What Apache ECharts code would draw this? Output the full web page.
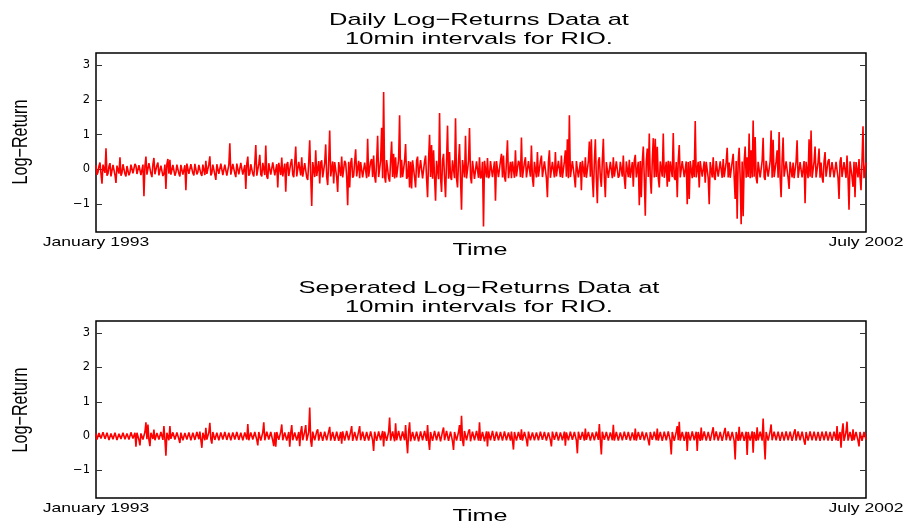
<!DOCTYPE html>
<html>
<head>
<meta charset="utf-8">
<script src="https://cdn.jsdelivr.net/npm/echarts@6/dist/echarts.min.js"></script>
<style>html,body{margin:0;padding:0;background:#fff;}#chart{width:903px;height:524px;}</style>
</head>
<body>
<div id="chart"></div>
<script>
// Daily log-returns (top panel), one value per ~1px
const dailyReturns = [
0.12,-0.15,-0.08,0.1,0.2,-0.12,-0.41,0.14,0.15,-0.1,0.61,-0.18,-0.12,0.09,0.18,-0.2,-0.15,0.13,0.1,-0.16,-0.39,0.11,0.14,-0.12,0.35,-0.18,-0.1,0.15,0.16,-0.13,-0.2,0.1,0.12,-0.17,-0.09,0.14,0.19,-0.11,-0.14,0.16,
0.1,-0.13,-0.18,0.12,0.15,-0.16,-0.11,0.14,-0.77,0.1,0.37,-0.15,-0.13,0.18,0.17,-0.12,-0.22,0.15,0.33,-0.14,-0.1,0.12,0.2,-0.17,-0.16,0.11,0.13,-0.19,-0.12,0.14,-0.56,0.16,0.3,-0.12,0.28,-0.15,-0.15,0.13,0.12,-0.18,
-0.09,0.14,0.16,-0.12,-0.2,0.13,0.11,-0.15,-0.14,0.12,-0.6,0.17,0.18,-0.13,-0.1,0.15,0.14,-0.11,-0.17,0.16,0.12,-0.14,-0.08,0.13,0.15,-0.12,-0.19,0.14,0.1,-0.16,0.25,-0.13,-0.13,0.15,0.38,-0.17,-0.11,0.14,0.17,-0.15,
-0.3,0.15,0.14,-0.13,-0.12,0.17,0.2,-0.16,-0.15,0.14,0.11,-0.18,-0.2,0.13,0.75,-0.15,-0.14,0.16,0.18,-0.12,-0.22,0.17,0.16,-0.14,-0.1,0.19,0.22,-0.15,-0.17,0.13,-0.56,0.16,0.37,-0.18,-0.12,0.15,0.19,-0.13,-0.2,0.17,
0.7,-0.18,-0.15,0.16,0.42,-0.14,-0.2,0.19,0.17,-0.16,0.69,-0.2,-0.27,0.18,0.2,-0.15,-0.14,0.2,0.24,-0.17,-0.18,0.15,-0.52,0.19,0.15,-0.16,0.34,-0.2,-0.2,0.17,-0.64,0.14,0.21,-0.19,-0.16,0.18,0.3,-0.15,-0.22,0.2,
0.66,-0.2,-0.18,0.22,0.2,-0.17,0.35,-0.21,-0.25,0.18,0.22,-0.23,-0.3,0.2,0.84,-0.18,-1.05,0.21,0.25,-0.22,0.55,-0.19,-0.22,0.24,-0.4,0.2,0.26,-0.23,-0.2,0.19,0.72,-0.21,-0.45,0.22,1.12,-0.2,-0.25,0.23,-0.4,0.21,
0.2,-0.22,-0.65,0.21,0.24,-0.19,0.37,-0.23,-0.2,0.25,0.18,-0.2,-1.03,0.22,-0.52,0.19,0.33,-0.24,-0.18,0.22,0.58,-0.2,-0.22,0.25,-0.25,0.21,0.26,-0.23,-0.2,0.2,0.22,-0.25,0.88,-0.21,-0.24,0.23,0.3,-0.22,0.4,-0.2,
-0.38,0.24,0.97,-0.22,-0.2,0.26,1.2,-0.25,2.23,-0.21,-0.38,0.27,0.22,-0.24,-0.35,0.25,0.8,-0.22,0.45,-0.26,0.35,-0.23,-0.25,0.28,1.56,-0.24,0.28,-0.22,-0.22,0.25,0.73,-0.27,-0.2,0.24,-0.52,0.22,-0.55,0.26,0.25,-0.23,
-0.52,0.25,0.37,-0.24,-0.2,0.27,0.25,-0.26,-0.28,0.23,0.4,-0.25,-0.8,0.26,1.0,-0.22,0.7,-0.27,0.55,-0.24,-0.9,0.25,0.3,-0.28,1.62,-0.23,-0.65,0.26,0.45,-0.25,-0.8,0.24,1.26,-0.27,0.5,-0.22,-0.3,0.26,0.28,-0.25,
1.47,-0.26,-0.52,0.24,0.73,-0.25,-1.16,0.27,0.25,-0.23,0.97,-0.26,-0.3,0.24,1.19,-0.22,-0.4,0.25,0.2,-0.27,-0.25,0.23,0.18,-0.24,0.35,-0.26,-0.2,0.22,-1.64,0.25,0.22,-0.23,0.33,-0.25,-0.18,0.24,0.2,-0.22,-0.24,0.23,
-0.9,0.24,0.2,-0.22,-0.18,0.25,0.45,-0.23,0.4,-0.21,-0.35,0.24,0.84,-0.25,-0.2,0.22,-0.25,0.23,0.22,-0.24,0.55,-0.2,-0.2,0.25,0.18,-0.22,0.92,-0.24,-0.22,0.21,0.35,-0.23,-0.2,0.24,0.2,-0.21,0.69,-0.25,-0.5,0.22,
0.2,-0.23,0.5,-0.21,-0.22,0.24,0.4,-0.22,-0.18,0.23,0.2,-0.25,-0.8,0.21,0.55,-0.24,-0.2,0.22,0.18,-0.23,0.5,-0.2,-0.24,0.25,0.2,-0.22,0.4,-0.24,-0.2,0.23,0.55,-0.21,0.87,-0.25,1.56,-0.22,-0.25,0.24,0.22,-0.23,
-0.52,0.24,0.2,-0.23,-0.22,0.21,-0.6,0.25,0.22,-0.22,0.35,-0.24,-0.25,0.23,0.8,-0.21,0.87,-0.25,-0.8,0.22,0.87,-0.24,-0.97,0.23,0.35,-0.22,-0.5,0.25,0.88,-0.23,-0.8,0.21,0.25,-0.24,-0.2,0.22,0.22,-0.25,0.35,-0.21,
-0.22,0.23,0.2,-0.24,-0.18,0.22,0.22,-0.21,0.4,-0.25,-0.56,0.23,0.2,-0.22,0.28,-0.24,-0.2,0.21,-0.5,0.25,0.42,-0.23,-0.25,0.22,-1.03,0.24,-0.8,0.21,0.66,-0.25,-1.33,0.23,0.6,-0.22,1.03,-0.24,-0.7,0.25,0.9,-0.23,
0.88,-0.22,0.65,-0.25,-0.52,0.23,0.25,-0.21,1.03,-0.24,-0.25,0.22,-0.5,0.25,-0.35,0.23,0.25,-0.22,1.05,-0.24,-0.3,0.21,-0.8,0.25,0.7,-0.23,-0.22,0.24,0.25,-0.22,-0.2,0.23,-1.0,0.21,-0.85,0.24,0.22,-0.25,0.27,-0.22,
1.39,-0.23,-0.25,0.22,-0.52,0.24,0.22,-0.21,-0.2,0.23,-0.38,0.22,0.25,-0.24,-1.0,0.21,0.2,-0.23,0.35,-0.22,-0.3,0.24,0.2,-0.21,-0.22,0.23,0.18,-0.24,0.3,-0.22,-0.2,0.21,0.62,-0.23,0.2,-0.24,-0.25,0.22,0.45,-0.21,
-0.85,0.24,-1.42,0.22,0.62,-0.25,-1.58,0.23,-1.35,0.21,0.66,-0.24,0.35,-0.22,1.03,-0.25,0.55,-0.23,1.41,-0.21,0.93,-0.24,-0.4,0.22,0.25,-0.23,-0.22,0.24,0.91,-0.22,-0.3,0.25,0.22,-0.21,-0.25,0.23,1.12,-0.24,0.85,-0.22,
-0.22,0.23,0.55,-0.24,1.08,-0.22,-0.8,0.25,0.92,-0.21,-0.25,0.23,0.22,-0.24,-0.56,0.22,0.24,-0.23,0.2,-0.25,-0.3,0.22,0.84,-0.24,-0.22,0.21,0.2,-0.23,-0.25,0.24,-0.97,0.22,0.22,-0.25,0.87,-0.21,1.12,-0.24,-0.25,0.22,
0.66,-0.23,-0.22,0.21,0.6,-0.24,0.2,-0.22,-0.38,0.23,0.5,-0.21,-0.2,0.24,0.3,-0.22,-0.25,0.21,0.2,-0.23,-0.22,0.22,0.25,-0.24,-0.85,0.23,0.35,-0.22,-0.2,0.21,0.22,-0.24,0.4,-0.22,-1.16,0.23,0.25,-0.21,-0.5,0.22,
-0.8,0.21,0.22,-0.23,0.3,-0.22,-0.6,0.24,1.24,-0.25,-0.28,0.2
];

// Separated log-returns (bottom panel)
const separatedReturns = [
0.08,-0.1,-0.06,0.09,0.1,-0.07,-0.09,0.11,0.07,-0.08,-0.12,0.1,0.09,-0.11,-0.07,0.08,0.11,-0.09,-0.08,0.1,0.06,-0.11,-0.1,0.07,0.09,-0.08,-0.07,0.1,0.1,-0.09,-0.11,0.08,0.08,-0.1,-0.06,0.11,0.12,-0.07,-0.09,0.1,
-0.31,0.1,0.09,-0.11,-0.27,0.08,0.1,-0.1,-0.08,0.12,0.4,-0.09,0.34,-0.11,-0.29,0.1,0.12,-0.08,0.19,-0.12,-0.1,0.09,0.11,-0.1,-0.09,0.12,0.08,-0.11,0.29,-0.09,-0.57,0.1,0.1,-0.12,0.29,-0.08,-0.12,0.11,0.09,-0.1,
-0.08,0.11,0.1,-0.09,-0.2,0.1,0.08,-0.12,-0.11,0.09,0.12,-0.1,-0.09,0.11,0.1,-0.12,-0.12,0.1,0.08,-0.11,-0.1,0.12,0.11,-0.09,0.13,-0.11,-0.34,0.1,0.09,-0.12,0.24,-0.1,-0.1,0.11,0.39,-0.09,-0.22,0.12,0.1,-0.11,
-0.11,0.1,0.12,-0.12,-0.09,0.11,0.1,-0.1,-0.13,0.12,0.11,-0.11,-0.08,0.1,0.12,-0.12,-0.1,0.11,0.13,-0.1,-0.12,0.12,0.09,-0.11,-0.11,0.1,0.1,-0.12,-0.09,0.11,0.12,-0.1,0.35,-0.12,-0.13,0.11,0.11,-0.1,-0.1,0.12,
0.12,-0.11,-0.27,0.12,0.1,-0.13,-0.12,0.11,0.4,-0.12,-0.11,0.13,0.14,-0.1,-0.1,0.12,0.12,-0.13,-0.29,0.11,-0.31,0.12,0.13,-0.11,-0.12,0.13,0.34,-0.12,-0.14,0.11,0.12,-0.13,-0.11,0.12,-0.31,0.1,0.32,-0.12,-0.13,0.11,
0.14,-0.13,-0.12,0.12,-0.29,0.13,0.29,-0.12,-0.14,0.14,0.32,-0.13,-0.13,0.12,0.83,-0.14,-0.31,0.13,0.15,-0.12,-0.12,0.14,0.2,-0.13,-0.14,0.12,0.13,-0.14,-0.12,0.13,0.18,-0.12,-0.15,0.14,0.27,-0.13,-0.13,0.12,0.14,-0.14,
-0.12,0.13,0.15,-0.14,-0.13,0.12,-0.22,0.14,0.14,-0.13,-0.12,0.15,0.2,-0.12,-0.14,0.13,0.29,-0.14,-0.13,0.12,0.15,-0.13,-0.12,0.14,0.29,-0.12,-0.15,0.13,0.13,-0.14,-0.14,0.12,0.16,-0.13,-0.12,0.14,0.14,-0.12,-0.43,0.13,
0.15,-0.14,-0.13,0.14,0.17,-0.12,-0.14,0.15,-0.3,0.13,0.15,-0.14,-0.13,0.12,0.54,-0.13,-0.15,0.14,0.16,-0.15,0.37,-0.12,-0.14,0.15,0.2,-0.13,-0.13,0.14,0.15,-0.12,0.32,-0.14,-0.5,0.13,0.4,-0.15,-0.14,0.12,0.15,-0.13,
-0.16,0.13,0.14,-0.15,-0.13,0.14,0.18,-0.12,-0.15,0.15,0.13,-0.14,0.32,-0.13,-0.4,0.12,0.15,-0.14,-0.13,0.15,0.16,-0.12,-0.14,0.13,0.14,-0.15,-0.15,0.14,0.25,-0.12,-0.13,0.15,0.15,-0.14,-0.16,0.13,0.13,-0.15,-0.4,0.12,
0.14,-0.13,-0.14,0.12,0.32,-0.14,0.59,-0.13,-0.29,0.15,0.15,-0.12,-0.13,0.14,0.2,-0.15,-0.15,0.13,0.14,-0.12,-0.13,0.15,0.16,-0.13,0.4,-0.14,-0.14,0.12,0.15,-0.15,-0.12,0.14,-0.3,0.13,0.14,-0.12,-0.13,0.15,0.15,-0.14,
-0.12,0.13,0.14,-0.12,-0.13,0.12,0.15,-0.13,-0.12,0.14,0.13,-0.12,-0.14,0.11,0.12,-0.13,0.13,-0.12,-0.39,0.12,0.12,-0.13,-0.11,0.12,0.14,-0.11,0.2,-0.13,-0.12,0.12,0.13,-0.11,-0.3,0.13,0.12,-0.12,-0.13,0.11,0.11,-0.12,
-0.12,0.11,0.13,-0.12,-0.1,0.13,0.12,-0.11,-0.13,0.12,0.11,-0.13,-0.12,0.11,0.14,-0.12,-0.3,0.13,0.12,-0.11,-0.11,0.12,0.13,-0.13,-0.12,0.11,0.1,-0.12,-0.13,0.13,-0.28,0.11,0.12,-0.12,-0.1,0.13,0.13,-0.11,-0.12,0.12,
0.11,-0.12,-0.5,0.13,0.12,-0.11,-0.11,0.12,0.13,-0.13,0.22,-0.11,-0.12,0.12,0.11,-0.13,-0.13,0.11,0.12,-0.12,-0.1,0.13,0.14,-0.11,0.35,-0.12,-0.53,0.13,0.12,-0.11,-0.11,0.12,0.13,-0.13,-0.12,0.11,0.1,-0.12,0.33,-0.13,
-0.12,0.12,0.11,-0.13,-0.13,0.11,0.12,-0.12,-0.1,0.13,0.13,-0.11,-0.12,0.12,0.11,-0.13,-0.13,0.11,0.12,-0.12,0.22,-0.13,-0.11,0.12,0.13,-0.11,-0.12,0.13,0.1,-0.12,-0.13,0.11,0.12,-0.13,-0.27,0.12,0.11,-0.11,-0.12,0.13,
0.13,-0.12,0.22,-0.13,-0.12,0.12,0.11,-0.14,-0.13,0.13,0.14,-0.12,-0.12,0.14,0.13,-0.13,-0.53,0.12,0.12,-0.14,-0.13,0.13,0.29,-0.12,0.42,-0.13,-0.14,0.12,0.13,-0.14,-0.12,0.13,-0.43,0.12,0.14,-0.13,-0.13,0.14,0.12,-0.12,
-0.14,0.13,-0.43,0.12,0.13,-0.14,0.25,-0.12,-0.12,0.14,0.14,-0.13,-0.13,0.12,0.12,-0.14,-0.14,0.13,0.26,-0.12,-0.12,0.14,0.13,-0.13,-0.14,0.12,0.12,-0.14,-0.13,0.13,0.24,-0.12,-0.12,0.14,0.13,-0.13,-0.14,0.12,0.12,-0.14,
-0.68,0.12,0.13,-0.14,0.27,-0.13,-0.14,0.12,0.12,-0.14,-0.13,0.13,-0.55,0.12,0.14,-0.13,-0.12,0.14,-0.48,0.12,0.13,-0.14,0.26,-0.12,-0.14,0.13,0.12,-0.13,0.51,-0.14,-0.68,0.12,0.14,-0.13,-0.13,0.14,0.34,-0.12,-0.12,0.13,
0.13,-0.12,-0.14,0.13,0.12,-0.14,-0.13,0.12,0.14,-0.13,-0.12,0.14,0.13,-0.12,-0.14,0.13,0.12,-0.14,-0.13,0.12,0.2,-0.13,-0.12,0.14,0.13,-0.12,-0.14,0.13,0.12,-0.14,-0.25,0.12,0.13,-0.13,-0.12,0.14,0.14,-0.12,-0.13,0.13,
0.12,-0.13,-0.14,0.12,0.13,-0.14,-0.12,0.13,0.14,-0.12,-0.13,0.14,0.12,-0.13,-0.14,0.12,0.13,-0.14,-0.12,0.13,0.14,-0.12,0.29,-0.14,-0.13,0.12,-0.34,0.13,0.37,-0.14,-0.12,0.12,0.42,-0.13,-0.14,0.12,0.12,-0.14,0.2,-0.12,
-0.13,0.12,0.14,-0.13,-0.3,0.12,0.12,-0.14,-0.13,0.12,0.11,-0.1
];

const yTickValues = [-1, 0, 1, 2, 3];
const startLabel = 'January 1993';
const endLabel = 'July 2002';
const topTitle = ['Daily Log\u2212Returns Data at', '10min intervals for RIO.'];
const bottomTitle = ['Seperated Log\u2212Returns Data at', '10min intervals for RIO.'];
const xName = 'Time';
const yName = 'Log\u2212Return';

const timeIndex = dailyReturns.map((_, i) => i);

const chart = echarts.init(document.getElementById('chart'), null, {renderer: 'canvas'});

const FONT = '"Liberation Sans", Arial, Helvetica, sans-serif';
function txt(text, x, y, size, sx, extra) {
  return Object.assign({
    type: 'text', x: x, y: y, scaleX: sx, scaleY: 1,
    style: {text: text, font: size + 'px ' + FONT, fill: '#000',
      align: 'center', verticalAlign: 'middle', textAlign: 'center', textVerticalAlign: 'middle'}
  }, extra || {});
}

function yAxisPair(gridIndex) {
  const common = {
    type: 'value', gridIndex: gridIndex, min: -1.8, max: 3.35,
    axisLine: {show: false}, splitLine: {show: false},
    axisTick: {show: true, inside: true, length: 6, customValues: yTickValues,
      lineStyle: {color: '#333', width: 1}}
  };
  return [
    Object.assign({}, common, {position: 'left',
      axisLabel: {show: true, customValues: yTickValues, margin: 6, color: '#000',
        fontFamily: '"DejaVu Sans", sans-serif', fontSize: 11.5,
        formatter: v => (v < 0 ? '\u2212' + Math.abs(v) : String(v))}}),
    Object.assign({}, common, {position: 'right', axisLabel: {show: false}})
  ];
}

function xAxisFor(gridIndex) {
  return {type: 'category', gridIndex: gridIndex, data: timeIndex, boundaryGap: false,
    axisLine: {show: false}, axisTick: {show: false}, axisLabel: {show: false}, splitLine: {show: false}};
}

const gridStyle = {show: true, borderColor: '#000', borderWidth: 1.5, backgroundColor: '#fff'};

chart.setOption({
  animation: false,
  backgroundColor: '#fff',
  grid: [
    Object.assign({left: 96, top: 53, width: 770, height: 179}, gridStyle),
    Object.assign({left: 96, top: 321, width: 770, height: 177}, gridStyle)
  ],
  xAxis: [xAxisFor(0), xAxisFor(1)],
  yAxis: [].concat(yAxisPair(0), yAxisPair(1)),
  series: [
    {type: 'line', xAxisIndex: 0, yAxisIndex: 0, data: dailyReturns, symbol: 'none',
      sampling: null, lineStyle: {color: '#ff0000', width: 1.6}, itemStyle: {color: '#ff0000'}},
    {type: 'line', xAxisIndex: 1, yAxisIndex: 2, data: separatedReturns, symbol: 'none',
      sampling: null, lineStyle: {color: '#ff0000', width: 1.6}, itemStyle: {color: '#ff0000'}}
  ],
  graphic: [
    txt(topTitle[0], 479, 20, 17, 1.5),
    txt(topTitle[1], 479, 39, 17, 1.5),
    txt(startLabel, 96, 242, 13, 1.35),
    txt(endLabel, 866, 242, 13, 1.35),
    txt(xName, 480, 250, 17, 1.48),
    txt(yName, 21, 142, 17, 1, {rotation: Math.PI / 2, scaleX: 0.95, scaleY: 1.25}),
    txt(bottomTitle[0], 479, 288, 17, 1.5),
    txt(bottomTitle[1], 479, 307, 17, 1.5),
    txt(startLabel, 96, 508, 13, 1.35),
    txt(endLabel, 866, 508, 13, 1.35),
    txt(xName, 480, 516, 17, 1.48),
    txt(yName, 21, 410, 17, 1, {rotation: Math.PI / 2, scaleX: 0.95, scaleY: 1.25})
  ]
});
</script>
</body>
</html>
